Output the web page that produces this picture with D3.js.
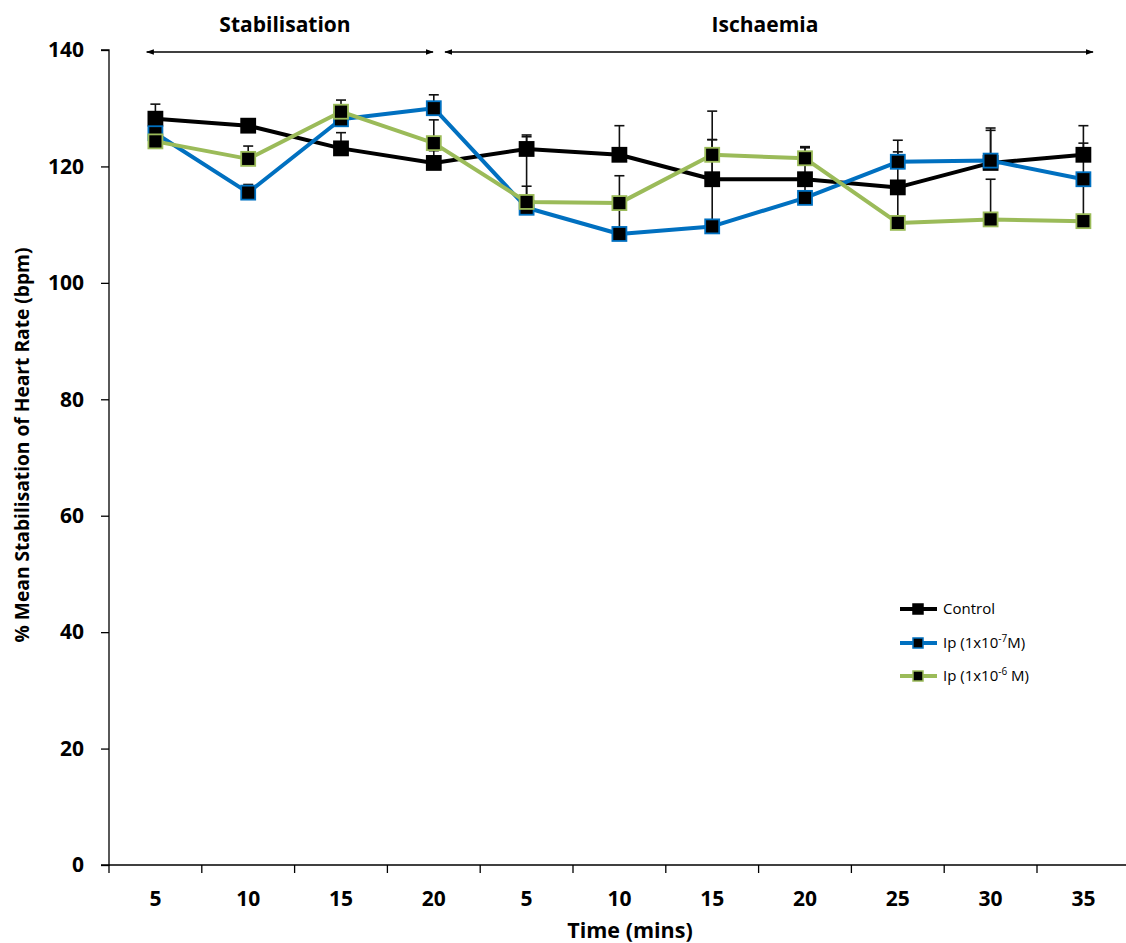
<!DOCTYPE html>
<html><head><meta charset="utf-8">
<script src="https://cdn.jsdelivr.net/npm/d3@7"></script>
<style>body{margin:0;background:#fff}svg{display:block}text{font-family:"Open Sans",Lato,sans-serif}</style>
</head><body><svg id="c" width="1126" height="943"></svg>
<script>
const categories = ["S5","S10","S15","S20","I5","I10","I15","I20","I25","I30","I35"];
const tickLabels = ["5","10","15","20","5","10","15","20","25","30","35"];
const yTicks = [0,20,40,60,80,100,120,140];
const controlValues = [128.2,127.0,123.1,120.6,123.0,122.0,117.8,117.8,116.4,120.6,122.0];
const controlErr    = [2.5,0.5,2.7,2.1,2.1,5.0,6.8,5.4,8.1,5.6,5.0];
const ip7Values = [125.7,115.5,128.1,130.0,112.9,108.4,109.7,114.6,120.8,121.0,117.8];
const ip7Err    = [1.0,1.4,0.5,2.3,12.5,10.0,19.8,4.0,1.7,5.6,6.2];
const ip6Values = [124.3,121.3,129.4,124.0,113.9,113.7,122.0,121.4,110.3,110.9,110.6];
const ip6Err    = [1.0,2.2,2.0,4.0,2.7,0.3,2.6,2.0,7.0,6.9,7.0];
const seriesNames = ["Control","Ip (1x10","Ip (1x10"];
const phaseNames = ["Stabilisation","Ischaemia"];

(function(){
const svg = d3.select("#c");
const mL = 109, mR = 1129.8, mT = 50, mB = 865;
const x = d3.scaleBand().domain(categories).range([mL,mR]).padding(0);
const y = d3.scaleLinear().domain([0,140]).range([mB,mT]);

const defs = svg.append("defs");
defs.append("marker").attr("id","ah").attr("viewBox","0 0 10 10").attr("refX",9).attr("refY",5)
  .attr("markerWidth",8).attr("markerHeight",8).attr("markerUnits","userSpaceOnUse").attr("orient","auto-start-reverse")
  .append("path").attr("d","M0,1.5 L10,5 L0,8.5 Z").attr("fill","#000");

const yAxis = svg.append("g").attr("transform",`translate(${mL},0)`)
  .call(d3.axisLeft(y).tickValues(yTicks).tickSize(8).tickPadding(17));
yAxis.select(".domain").attr("stroke","#000").attr("stroke-width",1.3).attr("d",`M-8,${mT}H0V${mB}H-8`);
yAxis.selectAll(".tick line").attr("stroke","#000").attr("stroke-width",1.3);
yAxis.selectAll(".tick text").attr("font-size",21).attr("font-weight","bold").attr("fill","#000").attr("font-family","Open Sans");

const gx = svg.append("g");
gx.append("line").attr("x1",mL).attr("x2",mR).attr("y1",mB).attr("y2",mB).attr("stroke","#000").attr("stroke-width",1.3);
d3.range(categories.length+1).forEach(i=>{
  const xx = mL + i*x.step();
  gx.append("line").attr("x1",xx).attr("x2",xx).attr("y1",mB).attr("y2",mB+8).attr("stroke","#000").attr("stroke-width",1.3);
});
categories.forEach((c,i)=>{
  gx.append("text").attr("x",x(c)+x.bandwidth()/2).attr("y",mB+41).attr("text-anchor","middle")
    .attr("font-size",21).attr("font-weight","bold").text(tickLabels[i]);
});
svg.append("text").attr("x",630).attr("y",938).attr("text-anchor","middle").attr("font-size",21.5).attr("font-weight","bold").text("Time (mins)");
svg.append("text").attr("transform","translate(29,445) rotate(-90)").attr("text-anchor","middle").attr("font-size",19.2).attr("font-weight","bold").text("% Mean Stabilisation of Heart Rate (bpm)");

const cx = c => x(c)+x.bandwidth()/2;
[[146.7,433],[445,1093]].forEach(([a,b])=>{
  svg.append("line").attr("x1",a).attr("x2",b).attr("y1",52).attr("y2",52).attr("stroke","#000").attr("stroke-width",1.5)
    .attr("marker-start","url(#ah)").attr("marker-end","url(#ah)");
});
svg.append("text").attr("x",285).attr("y",32).attr("text-anchor","middle").attr("font-size",21).attr("font-weight","bold").text(phaseNames[0]);
svg.append("text").attr("x",765).attr("y",32).attr("text-anchor","middle").attr("font-size",21).attr("font-weight","bold").text(phaseNames[1]);

const series = [
  {vals:controlValues, err:controlErr, color:"#000000"},
  {vals:ip7Values, err:ip7Err, color:"#0070C0"},
  {vals:ip6Values, err:ip6Err, color:"#9BBB59"}
];
const line = d3.line().x((d,i)=>cx(categories[i])).y(d=>y(d));
series.forEach(s=>{
  const g = svg.append("g");
  s.vals.forEach((v,i)=>{
    const xx = cx(categories[i]), y0 = y(v), y1 = y(v+s.err[i]);
    g.append("line").attr("x1",xx).attr("x2",xx).attr("y1",y0).attr("y2",y1).attr("stroke","#111").attr("stroke-width",1.6);
    g.append("line").attr("x1",xx-5).attr("x2",xx+5).attr("y1",y1).attr("y2",y1).attr("stroke","#111").attr("stroke-width",1.6);
  });
});
series.forEach(s=>{
  svg.append("path").datum(s.vals).attr("d",line).attr("fill","none").attr("stroke",s.color).attr("stroke-width",4).attr("stroke-linejoin","round");
  svg.append("g").selectAll("rect").data(s.vals).join("rect")
    .attr("x",(d,i)=>cx(categories[i])-7).attr("y",d=>y(d)-7).attr("width",14).attr("height",14)
    .attr("fill","#000").attr("stroke",s.color).attr("stroke-width",1.8);
});

const legRows = [609,643,676];
series.forEach((s,i)=>{
  const ly = legRows[i];
  svg.append("line").attr("x1",900).attr("x2",937).attr("y1",ly).attr("y2",ly).attr("stroke",s.color).attr("stroke-width",4);
  svg.append("rect").attr("x",913).attr("y",ly-5).attr("width",10).attr("height",10).attr("fill","#000").attr("stroke",s.color).attr("stroke-width",1.5);
});
svg.append("text").attr("x",943).attr("y",legRows[0]+5).attr("font-size",15).text(seriesNames[0]);
const t1 = svg.append("text").attr("x",943).attr("y",legRows[1]+5).attr("font-size",15);
t1.append("tspan").text(seriesNames[1]);
t1.append("tspan").attr("dy",-6).attr("font-size",10).text("-7");
t1.append("tspan").attr("dy",6).text("M)");
const t2 = svg.append("text").attr("x",943).attr("y",legRows[2]+5).attr("font-size",15);
t2.append("tspan").text(seriesNames[2]);
t2.append("tspan").attr("dy",-6).attr("font-size",10).text("-6");
t2.append("tspan").attr("dy",6).text(" M)");
})();
</script></body></html>
